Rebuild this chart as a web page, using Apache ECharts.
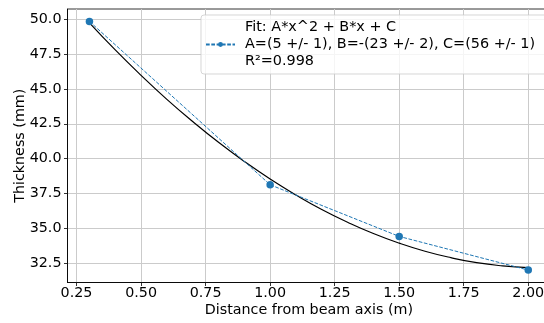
<!DOCTYPE html>
<html>
<head>
<meta charset="utf-8">
<script src="https://cdn.jsdelivr.net/npm/echarts@6/dist/echarts.min.js"></script>
<style>html,body{margin:0;padding:0;background:#fff}#c{width:544px;height:323px}</style>
</head>
<body>
<div id="c"></div>
<script>
// Measured data points
const dataX = [0.3, 1.0, 1.5, 2.0];
const dataY = [49.83, 38.13, 34.43, 32.02];
// Fitted curve
const fitX = [0.3, 0.4, 0.5, 0.6, 0.7, 0.8, 0.9, 1.0, 1.1, 1.2, 1.3, 1.4, 1.5, 1.6, 1.7, 1.8, 1.9, 2.0];
const fitY = [49.73, 47.79, 45.97, 44.25, 42.66, 41.17, 39.80, 38.54, 37.40, 36.36, 35.45, 34.64, 33.95, 33.37, 32.91, 32.55, 32.32, 32.19];
// Tick labels
const xTicks = [0.25, 0.50, 0.75, 1.00, 1.25, 1.50, 1.75, 2.00];
const yTicks = [32.5, 35.0, 37.5, 40.0, 42.5, 45.0, 47.5, 50.0];
const legendLabel = 'Fit: A*x^2 + B*x + C\nA=(5 +/- 1), B=-(23 +/- 2), C=(56 +/- 1)\nR²=0.998';
const xTitle = 'Distance from beam axis (m)';
const yTitle = 'Thickness (mm)';

const FONT = 'DejaVu Sans';
const FS = 14.3;
const chart = echarts.init(document.getElementById('c'), null, {renderer: 'canvas'});
chart.setOption({
  animation: false,
  backgroundColor: '#fff',
  grid: {left: 67.5, width: 482.7, top: 9, height: 273.5, containLabel: false, outerBoundsMode: 'none',
         show: true, borderColor: '#000', borderWidth: 0.8, backgroundColor: 'transparent'},
  legend: {
    show: true,
    data: [legendLabel],
    left: 201, top: 15,
    padding: [4, 12, 4, 4],
    backgroundColor: 'rgba(255,255,255,0.8)',
    borderColor: 'rgba(204,204,204,0.8)',
    borderWidth: 1,
    borderRadius: 3,
    itemWidth: 29,
    itemHeight: 6,
    textStyle: {fontFamily: FONT, fontSize: 14.4, color: '#000', lineHeight: 17, padding: [0, 0, 0, 5]}
  },
  xAxis: {
    type: 'value', min: 0.215, max: 2.085,
    name: xTitle, nameLocation: 'middle', nameGap: 21, nameMoveOverlap: false,
    nameTextStyle: {fontFamily: FONT, fontSize: FS, color: '#000'},
    axisLine: {show: true, onZero: false, lineStyle: {color: '#000', width: 0.8}},
    axisTick: {show: true, length: 3.5, lineStyle: {color: '#000', width: 0.8}, customValues: xTicks},
    axisLabel: {fontFamily: FONT, fontSize: FS, color: '#000', margin: 4, customValues: xTicks, formatter: v => v.toFixed(2)},
    splitLine: {show: true, lineStyle: {color: '#cbcbcb', width: 1}}
  },
  yAxis: {
    type: 'value', min: 31.13, max: 50.72,
    name: yTitle, nameLocation: 'middle', nameGap: 40, nameMoveOverlap: false,
    nameTextStyle: {fontFamily: FONT, fontSize: FS, color: '#000'},
    axisLine: {show: true, onZero: false, lineStyle: {color: '#000', width: 0.8}},
    axisTick: {show: true, length: 3.5, lineStyle: {color: '#000', width: 0.8}, customValues: yTicks},
    axisLabel: {fontFamily: FONT, fontSize: FS, color: '#000', margin: 6, customValues: yTicks, formatter: v => v.toFixed(1)},
    splitLine: {show: true, lineStyle: {color: '#cbcbcb', width: 1}}
  },
  series: [
    {
      name: 'fit', type: 'line', data: fitX.map((x, i) => [x, fitY[i]]),
      showSymbol: false, smooth: true, z: 2,
      lineStyle: {color: '#000', width: 1.2}, itemStyle: {color: '#000'}
    },
    {
      name: legendLabel, type: 'line', data: dataX.map((x, i) => [x, dataY[i]]),
      symbol: 'circle', symbolSize: 7.5, showSymbol: true, z: 3,
      lineStyle: {color: '#1f77b4', width: 1, type: [3.7, 1.6]},
      itemStyle: {color: '#1f77b4'}
    }
  ]
});
</script>
</body>
</html>
